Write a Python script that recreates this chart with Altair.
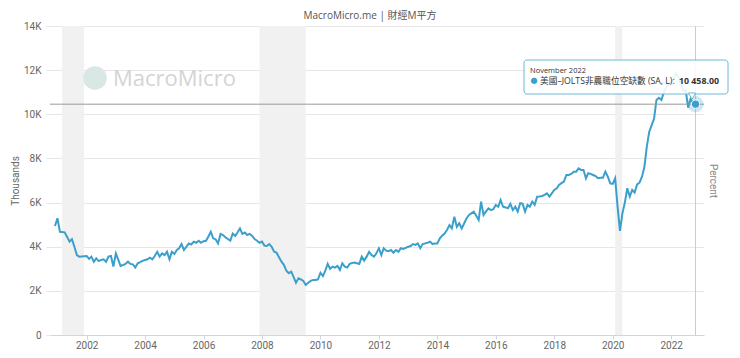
import altair as alt
import pandas as pd

# JOLTS job openings, thousands of persons (values read in K units)
v2000 = [4.94]
v2001 = [5.29, 4.68, 4.67, 4.65, 4.45, 4.23, 4.34, 4.00, 3.62, 3.55, 3.56, 3.57]
v2002 = [3.58, 3.45, 3.55, 3.32, 3.47, 3.35, 3.40, 3.43, 3.32, 3.55, 3.58, 3.10]
v2003 = [3.70, 3.40, 3.13, 3.17, 3.22, 3.32, 3.22, 3.20, 3.06, 3.25, 3.30, 3.36]
v2004 = [3.40, 3.43, 3.50, 3.43, 3.58, 3.77, 3.55, 3.70, 3.62, 3.77, 3.43, 3.77]
v2005 = [3.67, 3.85, 3.93, 4.12, 3.85, 4.00, 4.15, 4.10, 4.23, 4.18, 4.27, 4.18]
v2006 = [4.25, 4.27, 4.45, 4.68, 4.38, 4.34, 4.15, 4.58, 4.53, 4.43, 4.35, 4.27]
v2007 = [4.60, 4.49, 4.64, 4.83, 4.58, 4.64, 4.53, 4.58, 4.49, 4.35, 4.27, 4.18]
v2008 = [4.23, 4.05, 4.03, 4.12, 4.00, 3.77, 3.73, 3.52, 3.32, 3.18, 2.91, 2.80]
v2009 = [2.87, 2.61, 2.37, 2.57, 2.52, 2.45, 2.27, 2.37, 2.45, 2.49, 2.49, 2.52]
v2010 = [2.82, 2.67, 2.90, 3.22, 3.00, 3.10, 3.05, 3.13, 2.95, 3.25, 3.10, 3.06]
v2011 = [3.22, 3.26, 3.28, 3.25, 3.22, 3.55, 3.37, 3.55, 3.77, 3.62, 3.55, 3.70]
v2012 = [3.93, 3.62, 3.93, 3.82, 3.80, 3.85, 3.73, 3.85, 3.77, 3.93, 3.90, 3.95]
v2013 = [4.00, 4.03, 4.12, 4.08, 4.15, 3.93, 4.12, 4.15, 4.18, 4.23, 4.12, 4.15]
v2014 = [4.15, 4.38, 4.50, 4.60, 4.76, 4.98, 4.83, 5.36, 4.90, 5.06, 4.83, 5.05]
v2015 = [5.29, 5.44, 5.51, 5.59, 5.40, 5.21, 6.04, 5.44, 5.60, 5.74, 5.66, 5.70]
v2016 = [5.89, 5.81, 6.12, 5.81, 5.78, 5.74, 5.94, 5.66, 5.81, 5.59, 5.97, 5.95]
v2017 = [5.59, 5.89, 5.81, 6.04, 5.90, 6.27, 6.28, 6.30, 6.35, 6.42, 6.27, 6.42]
v2018 = [6.57, 6.65, 6.80, 6.88, 6.95, 7.25, 7.25, 7.30, 7.40, 7.40, 7.55, 7.48]
v2019 = [7.48, 7.10, 7.33, 7.30, 7.25, 7.20, 7.10, 7.12, 7.12, 7.40, 7.17, 6.87]
v2020 = [6.85, 7.10, 5.85, 4.72, 5.50, 6.00, 6.65, 6.27, 6.57, 6.45, 6.82, 6.90]
v2021 = [7.17, 7.63, 8.50, 9.20, 9.50, 9.80, 10.65, 10.75, 10.65, 11.00, 11.20, 11.40]
v2022 = [11.45, 11.60, 11.86, 11.70, 11.35, 11.05, 11.10, 10.30, 10.70, 10.50, 10.458]

rec_start = ["2001-03-01", "2007-12-01", "2020-02-01"]
rec_end = ["2001-11-30", "2009-06-30", "2020-04-30"]

y_ticks = [0, 2000, 4000, 6000, 8000, 10000, 12000, 14000]
x_tick_years = list(range(2002, 2023, 2))

title_text = "MacroMicro.me | 財經M平方"
tip_date = "November 2022"
tip_label = "美國–JOLTS非農職位空缺數 (SA, L): "
tip_value = "10 458.00"

series = [v2000, v2001, v2002, v2003, v2004, v2005, v2006, v2007, v2008, v2009,
          v2010, v2011, v2012, v2013, v2014, v2015, v2016, v2017, v2018, v2019,
          v2020, v2021, v2022]
vals = [round(v * 1000, 3) for yr in series for v in yr]
dates = pd.date_range("2000-12-01", periods=len(vals), freq="MS")
df = pd.DataFrame({"date": dates.strftime("%Y-%m-%d"), "value": vals})
last = df.tail(1)
rec = pd.DataFrame({"start": rec_start, "end": rec_end})

FONT = "Open Sans, Noto Sans CJK TC, sans-serif"
BLUE = "#3aa0cb"

xscale = alt.Scale(domain=[alt.DateTime(year=2000, month=9, date=30),
                           alt.DateTime(year=2023, month=2, date=15)])
xaxis = alt.Axis(values=[alt.DateTime(year=y, month=1, date=1) for y in x_tick_years],
                 format="%Y", title=None, grid=False, domainColor="#ccd6eb",
                 tickColor="#ccd6eb", tickSize=4, labelColor="#666666",
                 labelFontSize=10, labelFont="Roboto", labelPadding=1)
yscale = alt.Scale(domain=[0, 14000], nice=False)
yaxis = alt.Axis(values=y_ticks, title="Thousands", titleFontSize=10,
                 titleFontWeight="normal", titleColor="#666666", titleFont="Roboto",
                 titleX=-35, titleBaseline="middle",
                 labelExpr="datum.value == 0 ? '0' : (datum.value/1000) + 'K'",
                 labelColor="#666666", labelFontSize=10, labelFont="Roboto",
                 domain=False, ticks=True, tickSize=4, tickColor="#e6e6e6",
                 labelPadding=5, grid=True, gridColor="#e6e6e6")

rec_layer = alt.Chart(rec).mark_rect(color="#f1f1f1").encode(
    x=alt.X("start:T", scale=xscale, axis=xaxis),
    x2="end:T",
)

line = alt.Chart(df).mark_line(color=BLUE, strokeWidth=2).encode(
    x=alt.X("date:T", scale=xscale, axis=xaxis),
    y=alt.Y("value:Q", scale=yscale, axis=yaxis),
)

vrule = alt.Chart(last).mark_rule(color="#cccccc", strokeWidth=1).encode(
    x=alt.X("date:T", scale=xscale, axis=xaxis))
hrule = alt.Chart(last).mark_rule(color="#999999", strokeWidth=1).encode(
    y=alt.Y("value:Q", scale=yscale, axis=yaxis))

halo = alt.Chart(last).mark_point(filled=True, color=BLUE, opacity=0.25, size=260).encode(
    x=alt.X("date:T", scale=xscale, axis=xaxis), y=alt.Y("value:Q", scale=yscale, axis=yaxis))
dot = alt.Chart(last).mark_point(filled=True, color=BLUE, stroke="white", strokeWidth=1,
                                 opacity=1, size=70).encode(
    x=alt.X("date:T", scale=xscale, axis=xaxis), y=alt.Y("value:Q", scale=yscale, axis=yaxis))

# watermark
logo = alt.Chart(last).mark_point(filled=True, color="#d9e7e5", opacity=1, size=560).encode(
    x=alt.value(45), y=alt.value(52))
wm = alt.Chart(last).mark_text(text="MacroMicro", font="Open Sans", fontSize=22,
                               color="#d4d4d4", align="left", baseline="middle").encode(
    x=alt.value(63), y=alt.value(53))

# title
ttl = alt.Chart(last).mark_text(text=title_text, font=FONT, fontSize=10, color="#555555",
                                align="center", baseline="middle").encode(
    x=alt.value(320), y=alt.value(-10))

# right axis title
pct = alt.Chart(last).mark_text(text="Percent", font="Roboto", fontSize=10, color="#888888",
                                angle=90, align="center", baseline="middle").encode(
    x=alt.value(663), y=alt.value(155))

# tooltip
box = alt.Chart(last).mark_rect(fill="white", fillOpacity=0.88, stroke="#6fb9d8",
                                strokeWidth=1, cornerRadius=3).encode(
    x=alt.value(474), x2=alt.value(678), y=alt.value(34), y2=alt.value(68))
pointer = alt.Chart(last).mark_point(shape="triangle-down", filled=True, fill="white",
                                     stroke="#6fb9d8", strokeWidth=1, size=50, opacity=1).encode(
    x=alt.value(642), y=alt.value(70))
t1 = alt.Chart(last).mark_text(text=tip_date, font=FONT, fontSize=7.5, color="#333333",
                               align="left", baseline="middle").encode(
    x=alt.value(480), y=alt.value(45))
tdot = alt.Chart(last).mark_text(text="●", font=FONT, fontSize=7, color=BLUE,
                                 align="center", baseline="middle").encode(
    x=alt.value(484), y=alt.value(55))
t2 = alt.Chart(last).mark_text(text=tip_label, font=FONT, fontSize=8.7, color="#333333",
                               align="left", baseline="middle").encode(
    x=alt.value(490), y=alt.value(55))
t3 = alt.Chart(last).mark_text(text=tip_value, font=FONT, fontSize=8.8, fontWeight="bold",
                               color="#333333", align="left", baseline="middle").encode(
    x=alt.value(629), y=alt.value(55))

chart = alt.layer(
    rec_layer, logo, wm, line, hrule, vrule, halo, dot, ttl, pct, box, pointer, t1, tdot, t2, t3
).properties(
    width=654, height=309,
    autosize=alt.AutoSizeParams(type="none"),
    padding={"left": 42, "top": 18, "right": 28, "bottom": 15},
).configure_view(stroke=None)

chart.save("out.html", embed_options={"renderer": "svg", "actions": False})
